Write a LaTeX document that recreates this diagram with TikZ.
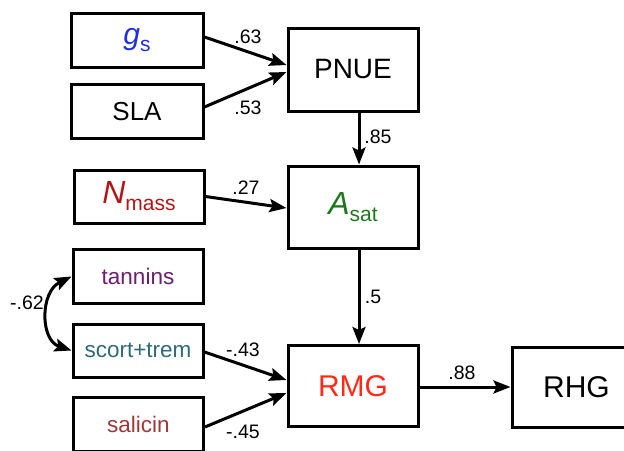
\documentclass[tikz,border=0pt]{standalone}
\usepackage{fontspec}
\setmainfont{Liberation Sans}
\usetikzlibrary{arrows.meta,calc}

\definecolor{gscol}{HTML}{1F30E0}
\definecolor{ncol}{HTML}{B01818}
\definecolor{tancol}{HTML}{6B1E6B}
\definecolor{sccol}{HTML}{2E6A7A}
\definecolor{salcol}{HTML}{A03838}
\definecolor{acol}{HTML}{1A7A1A}
\definecolor{rmgcol}{HTML}{FF2A1A}

\newcommand\lowsub[1]{\raisebox{-7pt}{\fontsize{21}{21}\selectfont #1}}

\tikzset{
  var/.style={draw, line width=3pt, rectangle, inner sep=0pt,
    minimum width=130pt, minimum height=54pt, font=\fontsize{26}{26}\selectfont},
  small/.style={var, font=\fontsize{22.5}{22.5}\selectfont},
  big/.style={var, minimum height=82pt, font=\fontsize{28}{28}\selectfont},
  tip/.tip={Stealth[length=17pt,width=13pt,inset=3pt]},
  arr/.style={line width=3pt, -tip},
  dblarr/.style={line width=3pt, tip-tip},
  coef/.style={font=\fontsize{19.5}{19.5}\selectfont, inner sep=0pt}
}

\begin{document}
\begin{tikzpicture}[x=1pt, y=-1pt]
\useasboundingbox (0,0) rectangle (624,450);

% exogenous traits
\node[var, minimum width=132pt, text=gscol] (gs) at (137,40) {\fontsize{30}{30}\selectfont\itshape g\lowsub{\upshape s}};
\node[var, minimum width=132pt] (sla) at (137,111.5) {SLA};
\node[var, minimum height=53pt, text=ncol] (nmass) at (139,196.5) {\fontsize{32}{32}\selectfont\itshape N\lowsub{\upshape mass}};
\node[small, text=tancol] (tan) at (138,276.5) {tannins};
\node[small, minimum height=53pt, text=sccol] (sc) at (138,350.5) {scort+trem};
\node[small, text=salcol] (sal) at (138.5,424) {salicin};

% endogenous traits
\node[big, minimum height=83pt] (pnue) at (353,69.5) {PNUE};
\node[big, text=acol] (asat) at (353,207) {\fontsize{32}{32}\selectfont\itshape A\lowsub{\upshape sat}};
\node[big, minimum height=81pt, text=rmgcol] (rmg) at (353,386) {\fontsize{30}{30}\selectfont RMG};
\node[big, minimum width=129pt, minimum height=80pt] (rhg) at (576.5,387) {\fontsize{30}{30}\selectfont RHG};

% paths
\draw[arr] ($(gs.east)+(0,-3)$) -- ($(pnue.west)+(0,-4.5)$);
\draw[arr] ($(sla.east)+(0,-4.5)$) -- ($(pnue.west)+(0,2.5)$);
\draw[arr] ($(pnue.south)+(6,0)$) -- ($(asat.north)+(6,0)$);
\draw[arr] (nmass.east) -- ($(asat.west)+(0,1)$);
\draw[arr] ($(asat.south)+(6,0)$) -- ($(rmg.north)+(6,0)$);
\draw[arr] ($(sc.east)+(0,1.5)$) -- ($(rmg.west)+(0,-6)$);
\draw[arr] ($(sal.east)+(0,3)$) -- ($(rmg.west)+(0,7)$);
\draw[arr] ($(rmg.east)+(0,1)$) -- (rhg.west);
\draw[dblarr] (tan.west) .. controls (40,292) and (40,340) .. (sc.west);

% path coefficients
\node[coef] at (248,37) {.63};
\node[coef] at (248,108) {.53};
\node[coef] at (378,137) {.85};
\node[coef] at (246,188) {.27};
\node[coef] at (373,297) {.5};
\node[coef] at (27,303) {-.62};
\node[coef] at (243,350) {-.43};
\node[coef] at (243,432) {-.45};
\node[coef] at (462,373) {.88};
\end{tikzpicture}
\end{document}
